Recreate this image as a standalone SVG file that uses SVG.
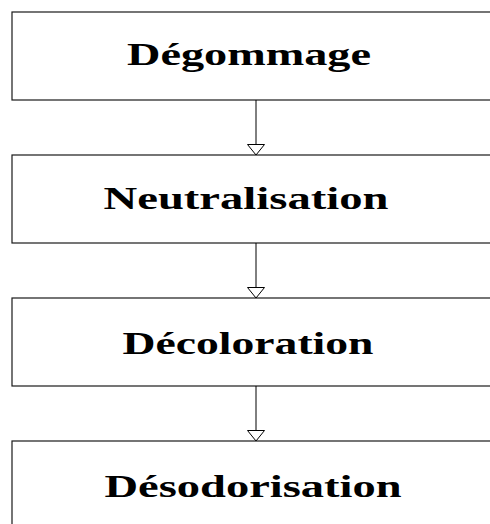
<svg xmlns="http://www.w3.org/2000/svg" width="490" height="524" viewBox="0 0 490 524">
<style>
.box{fill:#fff;stroke:#1a1a1a;stroke-width:1.2}
.lbl{font-family:"Liberation Serif","Times New Roman",serif;font-weight:bold;font-size:32px;fill:#000;text-anchor:middle}
.conn line{stroke:#000;stroke-width:1}
.conn path{fill:#fff;stroke:#000;stroke-width:1}
</style>
<rect width="490" height="524" fill="#fff"/>
<g id="node-degommage">
<rect class="box" x="12" y="12" width="490" height="88"/>
<text class="lbl" x="249" y="65" textLength="244" lengthAdjust="spacingAndGlyphs">Dégommage</text>
</g>
<g id="node-neutralisation">
<rect class="box" x="12" y="155" width="490" height="88"/>
<text class="lbl" x="246" y="209" textLength="285" lengthAdjust="spacingAndGlyphs">Neutralisation</text>
</g>
<g id="node-decoloration">
<rect class="box" x="12" y="298" width="490" height="88"/>
<text class="lbl" x="248" y="354" textLength="251" lengthAdjust="spacingAndGlyphs">Décoloration</text>
</g>
<g id="node-desodorisation">
<rect class="box" x="12" y="441" width="490" height="100"/>
<text class="lbl" x="253" y="497" textLength="297" lengthAdjust="spacingAndGlyphs">Désodorisation</text>
</g>
<g id="connectors" class="conn">
<line x1="256" y1="100" x2="256" y2="144"/>
<path d="M247.5,144.5 L264.5,144.5 L256,155 Z"/>
<line x1="256" y1="243" x2="256" y2="287"/>
<path d="M247.5,287.5 L264.5,287.5 L256,298 Z"/>
<line x1="256" y1="386" x2="256" y2="430"/>
<path d="M247.5,430.5 L264.5,430.5 L256,441 Z"/>
</g>
</svg>
